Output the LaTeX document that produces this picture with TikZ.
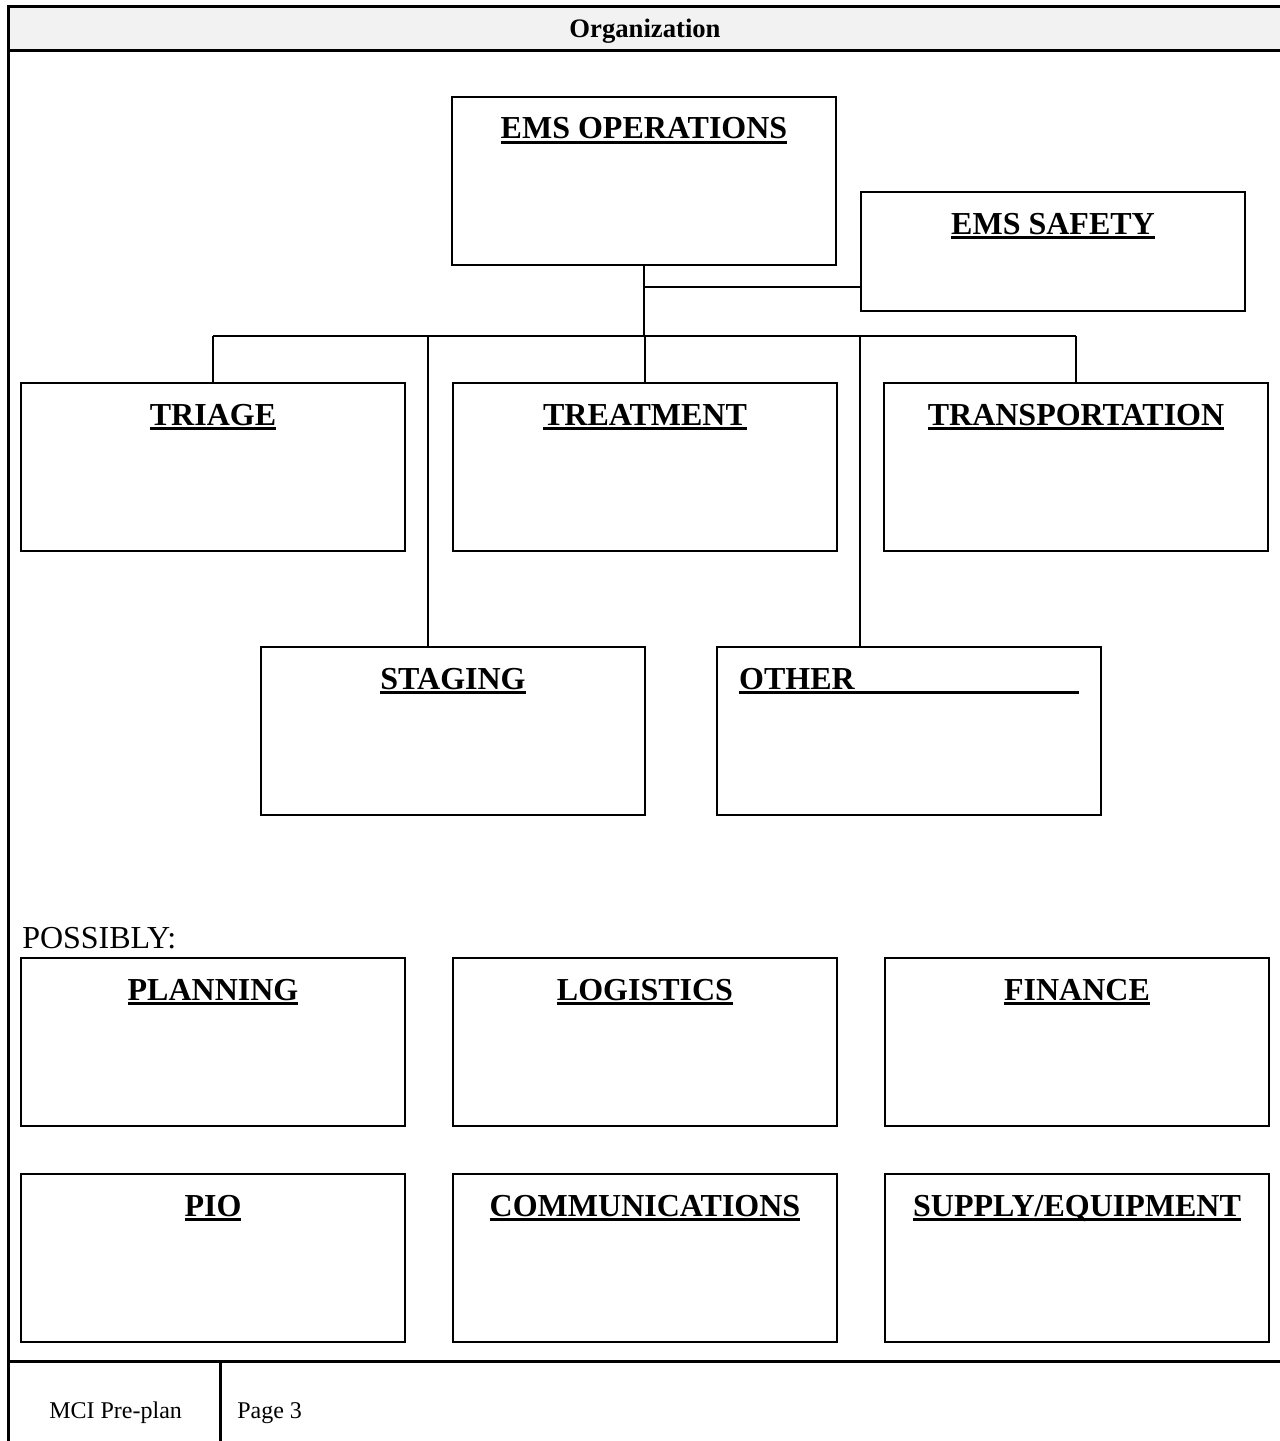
\documentclass[tikz,border=0pt]{standalone}
\usepackage{fontspec}
\setmainfont{Liberation Serif}
\usepackage{tikz}
\usetikzlibrary{positioning,calc}

\newsavebox{\ulbox}
\newcommand{\titleul}[1]{\sbox{\ulbox}{#1}\rlap{\rule[-3.75pt]{\wd\ulbox}{2.25pt}}\usebox{\ulbox}}

\tikzset{
    frameline/.style={line width=2.25pt},
    unitbox/.style={rectangle, draw, line width=1.5pt, inner sep=0pt, anchor=north,
        minimum width=288pt, text height=31.5pt, text depth=94.5pt,
        font=\bfseries\fontsize{24}{28}\selectfont},
    shortbox/.style={unitbox, text depth=57.75pt},
    plaintext/.style={inner sep=0pt, anchor=base west},
    link/.style={line width=1.5pt}
}

\begin{document}
\begin{tikzpicture}[x=0.75pt, y=-0.75pt]
                    \useasboundingbox (0,0) rectangle (1279,1441);

                    % page frame
                    \draw[frameline, fill=gray!10] (8,7) rectangle (1283,51);
                    \draw[frameline] (8,7) -- (8,1445);
                    \draw[frameline] (8,1361) -- (1283,1361);
                    \draw[frameline] (220,1361) -- (220,1445);
                    \node[inner sep=0pt, anchor=base, font=\bfseries\fontsize{20}{24}\selectfont] (title) at (645,38) {Organization};

                    \node[unitbox] (ops) at (644,96) {\titleul{EMS OPERATIONS}};
                    \node[shortbox] (safety) at (1053,191) {\titleul{EMS SAFETY}};

                    \node[unitbox] (triage) at (213,382) {\titleul{TRIAGE}};
                    \node[unitbox] (treatment) at (645,382) {\titleul{TREATMENT}};
                    \node[unitbox] (transport) at (1076,382) {\titleul{TRANSPORTATION}};

                    \node[unitbox] (staging) at (453,646) {\titleul{STAGING}};
                    \node[unitbox] (other) at (909,646) {\titleul{OTHER\hspace*{168pt}}};

                    \node[plaintext, font=\fontsize{24}{28}\selectfont] (possibly) at (22,948) {POSSIBLY:};
                    \node[unitbox] (planning) at (213,957) {\titleul{PLANNING}};
                    \node[unitbox] (logistics) at (645,957) {\titleul{LOGISTICS}};
                    \node[unitbox] (finance) at (1077,957) {\titleul{FINANCE}};

                    \node[unitbox] (pio) at (213,1173) {\titleul{PIO}};
                    \node[unitbox] (comms) at (645,1173) {\titleul{COMMUNICATIONS}};
                    \node[unitbox] (supply) at (1077,1173) {\titleul{SUPPLY/EQUIPMENT}};

                    % connectors
                    \coordinate (bus) at (644,336);
                    \coordinate (safetyjoin) at (644,287);
                    \coordinate (stagingdrop) at (428,336);
                    \coordinate (otherdrop) at (860,336);

                    \draw[link] (ops.south) -- (bus);
                    \draw[link] (safetyjoin) -- (safetyjoin -| safety.west);
                    \draw[link] (triage.north |- bus) -- (transport.north |- bus);
                    \draw[link] (triage.north |- bus) -- (triage.north);
                    \draw[link] (treatment.north |- bus) -- (treatment.north);
                    \draw[link] (transport.north |- bus) -- (transport.north);
                    \draw[link] (stagingdrop) -- (stagingdrop |- staging.north);
                    \draw[link] (otherdrop) -- (otherdrop |- other.north);

                    \node[plaintext, font=\fontsize{18}{22}\selectfont] (plan) at (49,1418) {MCI Pre-plan};
                    \node[plaintext, font=\fontsize{18}{22}\selectfont] (page) at (237,1418) {Page 3};
                \end{tikzpicture}
\end{document}
